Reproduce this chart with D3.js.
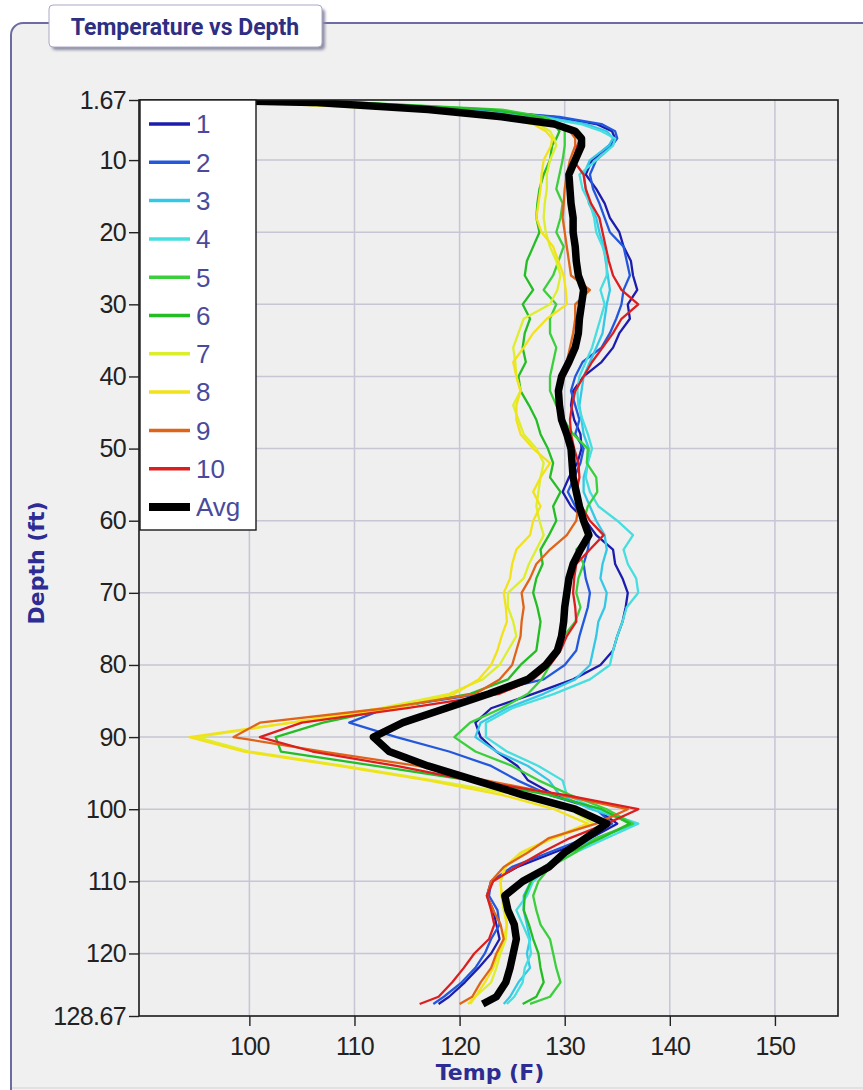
<!DOCTYPE html>
<html>
<head>
<meta charset="utf-8">
<script src="https://cdn.jsdelivr.net/npm/d3@7"></script>
<style>
  body { margin: 0; background: #ffffff; }
  svg { display: block; }
</style>
</head>
<body>
<svg id="chart" width="863" height="1090"></svg>
<script>
// Depth samples (ft) shared by every run
const depths = [1.67, 2, 3, 4, 5, 6, 7,
  8, 10, 12, 14, 16, 18, 20, 22, 24, 26,
  28, 30, 32, 34, 36, 38, 40, 42, 44, 46,
  48, 50, 52, 54, 56, 58, 60, 62, 64, 66,
  68, 70, 72, 74, 76, 78, 80, 82, 84, 86,
  88, 90, 92, 94, 96, 98, 100, 102, 104, 106,
  108, 110, 112, 114, 116, 118, 120, 122, 124, 126,
  127];

// Temperature (F) of each run at the depths above
const run1 = [92, 104, 121, 129, 133, 134.5, 134.8,
  134.2, 132.6, 132, 133, 133.8, 134.3, 135.2, 135.6, 136.3, 136.5,
  136.9, 136, 136.2, 135.2, 134.6, 133.5, 131.8, 130.8, 130.6, 130.9,
  131.5, 131.6, 131.2, 130.4, 129.8, 130.6, 132, 133, 134.6, 134.8,
  135.5, 136, 135.8, 135.5, 135, 134.6, 133.4, 130.8, 127, 123,
  121.5, 122, 123.5, 125.5, 126.5, 129, 133, 135, 132.5, 129,
  125.5, 123, 122.6, 123.2, 123.5, 123.8, 123, 121.8, 120.5, 119,
  118];
const run2 = [92, 104, 121, 129.5, 133.5, 134.8, 135,
  134.5, 133, 132.4, 132.7, 133.3, 133.8, 134.3, 135.6, 135.9, 136.2,
  135.6, 135.4, 134.9, 134.3, 133.5, 131.7, 131, 130.6, 131, 131.4,
  131, 131.8, 131.5, 130.9, 130.3, 131, 131.8, 132.4, 132.2, 131.8,
  132, 132.4, 132.2, 131.8, 131.4, 131.1, 130, 128, 122, 113,
  109.5, 114, 119, 123, 125.5, 128.5, 133, 134.5, 132, 128.5,
  125, 123, 122.8, 123.6, 123.8, 123, 122.4, 121.5, 120.2, 118.5,
  117.5];
const run3 = [92, 103, 120, 128, 132, 134, 134.6,
  134.2, 132.4, 131.8, 132, 132.3, 133, 133.3, 133.7, 133.9, 134.1,
  134.3, 134, 133.8, 133.6, 133, 132.4, 131.8, 131.6, 131.4, 131.6,
  131.8, 132.3, 132.2, 131.8, 131.8, 132.4, 133, 133.8, 134, 133.6,
  133.4, 134, 133.8, 133.2, 133, 132.7, 132.4, 131, 128, 124.5,
  122, 121.5, 123.5, 126.5, 128.5, 129.5, 132.5, 136.8, 133, 130,
  128, 126.8, 126.1, 126.1, 126.4, 126.7, 126.4, 126.7, 125.6, 124.8,
  124.2];
const run4 = [92, 103, 119, 127.5, 131.5, 133.5, 134.8,
  134.6, 133, 131.4, 131.7, 132.4, 132.8, 133, 133.6, 134, 134,
  133.4, 133.8, 133.4, 133, 132.6, 132, 131.4, 131.2, 131.3, 131.7,
  132.2, 132.6, 132.2, 132, 132.4, 133.2, 135, 136.5, 135.6, 136,
  136.8, 137, 135.9, 135.5, 135, 134.6, 134.3, 132.4, 129, 125,
  122.5, 122.5, 124.5, 127.5, 129.8, 130.2, 133, 137, 134, 131,
  128.5, 127, 126.4, 125.4, 126, 126.6, 126.8, 126.2, 126, 125.2,
  124.5];
const run5 = [92, 110, 124, 128, 129.5, 130, 130,
  130, 129.8, 129.5, 129.2, 129.8, 129.6, 129.2, 129.9, 129.4, 128.9,
  128, 129.2, 128.6, 128.6, 129.2, 128.9, 128.6, 128.6, 129.2, 129.9,
  130.8, 132.2, 132.1, 133, 133.1, 132.2, 131.8, 132.4, 131.1, 131.8,
  131.3, 131.1, 131.5, 131, 129.9, 129.3, 128.6, 127.8, 126.5, 124,
  121, 119.5, 121.5, 125, 127.5, 130.5, 134, 136.5, 133, 131,
  128.6, 127.5, 127, 127.3, 127.7, 128.6, 128.9, 129.2, 129.6, 128.6,
  126.7];
const run6 = [92, 110, 123, 127.5, 129, 129.5, 129.2,
  128.8, 128.6, 128, 127.6, 127.4, 127.3, 127.6, 127, 126.4, 126.2,
  127, 126, 126.7, 126.2, 126, 126.3, 125.6, 125.8, 126.6, 127.3,
  127.7, 128.4, 128.9, 128.6, 129.6, 128.9, 129.2, 128.5, 127.7, 127.9,
  127.3, 127, 127.4, 127.7, 127.5, 127.3, 125.8, 124.6, 121, 113.5,
  107, 102.5, 103, 112, 121, 128.5, 133.5, 136.2, 133.5, 130.5,
  128, 126.8, 126.2, 126.1, 126.6, 127, 127.5, 127.7, 128, 127.3,
  126];
const run7 = [92, 100, 116, 124, 127.5, 128.6, 129,
  129.2, 128.6, 128.3, 128.3, 128.1, 128, 128.2, 128.6, 129.2, 129.6,
  129.3, 128.6, 126.1, 125.6, 125.1, 125.3, 125.4, 125.8, 125.1, 125.6,
  126.1, 127.3, 128, 127.7, 127.5, 127.3, 127.6, 128, 127.3, 126.6,
  126.1, 124.6, 124.6, 125.1, 125.4, 124.6, 123.8, 122.2, 119, 112.5,
  104, 95, 100, 109, 117.5, 125.5, 130.5, 132.7, 129, 126,
  124.4, 123.9, 124, 124.2, 124.5, 124.4, 123.9, 123.5, 123, 121.5,
  121];
const run8 = [92, 100, 115, 123.5, 127, 128.2, 128.8,
  128.7, 128, 127.8, 127.7, 127.5, 127.3, 127.8, 128.9, 129.4, 129.9,
  130.1, 130.2, 128.3, 127, 126.1, 125.1, 125.4, 125.8, 125.4, 125.4,
  125.8, 127, 128.6, 127.7, 127, 127.7, 127, 126.7, 125.4, 125,
  124.8, 124.2, 124.4, 124.5, 124, 123.6, 123, 121.8, 119.5, 114,
  104, 94.3, 99.5, 108.5, 117, 124, 129, 132.2, 128.8, 125.8,
  124.3, 123.9, 124, 124.3, 124.5, 124.2, 123.7, 123.2, 122.4, 121.5,
  120.8];
const run9 = [92, 102, 118, 125, 129, 130.5, 131,
  131, 130.5, 130.2, 130, 129.9, 129.8, 130, 130.2, 130.4, 130.6,
  132.4, 131, 131, 130.8, 130.5, 130.2, 129.8, 129.5, 129.3, 129.6,
  130, 130.4, 130.8, 131, 131.2, 131.3, 131.1, 130.2, 128.6, 127.3,
  126.7, 125.9, 126.1, 125.9, 125.8, 125.4, 125, 123.8, 121.5, 113,
  101, 98.5, 107, 116, 122.5, 129.5, 136, 133, 128.5, 126.5,
  124.2, 123, 122.6, 123.2, 123.9, 124.2, 123.5, 123, 122, 121.2,
  120];
const run10 = [92, 102, 118, 125, 129, 130.8, 131.5,
  131.2, 130.8, 131.8, 132, 132.5, 133.3, 133.6, 133.9, 134.2, 134.6,
  135.4, 137, 135.4, 134.6, 133.6, 132.6, 131.8, 131, 130.7, 130.5,
  130.6, 130.9, 131.3, 131.4, 131.1, 131.6, 132.4, 133.7, 132.4, 131.1,
  130.9, 130.8, 131, 131.1, 130.2, 129.6, 128.6, 127, 123.8, 115,
  105, 101, 106, 114, 121, 130, 137, 134, 130.5, 127.8,
  125.4, 123.2, 122.6, 123, 123.3, 122.8, 121.4, 120.4, 119.3, 118,
  116.2];
const avgTemp = [94, 106, 117, 124, 129, 131, 131.6,
  131.6, 131, 130.4, 130.5, 130.6, 130.8, 130.8, 131, 131.1, 131.3,
  131.8, 131.6, 131.4, 131.3, 131, 130.4, 129.7, 129.4, 129.5, 129.7,
  130.2, 130.6, 130.7, 130.8, 131.1, 131.4, 131.8, 132.3, 131.5, 130.8,
  130.4, 130.2, 130, 129.9, 129.7, 129.3, 128.2, 126.5, 122.8, 118.7,
  114.6, 111.8, 113.3, 117, 121.5, 126, 131, 134, 132, 130,
  128.5, 126, 124.3, 124.6, 125.2, 125.4, 125.1, 124.8, 124.4, 123.5,
  122.2];

const runNames = ["1", "2", "3", "4", "5", "6", "7", "8", "9", "10"];
const runColors = ["#1c1cae", "#2458dc", "#34c8e6", "#46dede", "#3ccf3c",
                   "#24bd24", "#dcee2c", "#f2e21a", "#e06418", "#dc1e1e"];
const runValues = [run1, run2, run3, run4, run5, run6, run7, run8, run9, run10];

const tempTicks = [100, 110, 120, 130, 140, 150];
const depthTicks = [1.67, 10, 20, 30, 40, 50, 60, 70, 80, 90, 100, 110, 120, 128.67];
const depthGridLines = [10, 20, 30, 40, 50, 60, 70, 80, 90, 100, 110, 120];

const svg = d3.select("#chart");
const plot = { left: 139, right: 838, top: 100, bottom: 1016 };

const x = d3.scaleLinear().domain([89.5, 156]).range([plot.left, plot.right]);
const y = d3.scaleLinear().domain([1.67, 128.67]).range([plot.top, plot.bottom]);

const defs = svg.append("defs");
defs.append("filter").attr("id", "soft").attr("x", "-10%").attr("y", "-10%")
  .attr("width", "130%").attr("height", "140%")
  .append("feGaussianBlur").attr("stdDeviation", 1.6);
defs.append("clipPath").attr("id", "plotClip")
  .append("rect")
  .attr("x", plot.left).attr("y", plot.top)
  .attr("width", plot.right - plot.left).attr("height", plot.bottom - plot.top);

// Outer panel
svg.append("rect").attr("width", 863).attr("height", 1090).attr("fill", "#ffffff");
svg.append("rect")
  .attr("x", 11).attr("y", 23).attr("width", 900).attr("height", 1090).attr("rx", 12)
  .attr("fill", "#f0f0f0").attr("stroke", "#6c6ca2").attr("stroke-width", 2);
svg.append("line")
  .attr("x1", 12).attr("x2", 863).attr("y1", 1088).attr("y2", 1088)
  .attr("stroke", "#dcdce2").attr("stroke-width", 1.5);

// Title tab
svg.append("rect")
  .attr("x", 52).attr("y", 9).attr("width", 273).attr("height", 41).attr("rx", 4)
  .attr("fill", "#8c8ca4").attr("filter", "url(#soft)");
svg.append("rect")
  .attr("x", 49).attr("y", 5).attr("width", 273).attr("height", 42).attr("rx", 4)
  .attr("fill", "#ffffff").attr("stroke", "#a8a8c4").attr("stroke-width", 1);
svg.append("text")
  .attr("x", 185).attr("y", 35).attr("text-anchor", "middle")
  .attr("font-family", "Roboto, 'Open Sans', sans-serif").attr("font-weight", 700)
  .attr("font-size", 23).attr("fill", "#2e2e82")
  .text("Temperature vs Depth");

// Plot background
svg.append("rect")
  .attr("x", plot.left).attr("y", plot.top)
  .attr("width", plot.right - plot.left).attr("height", plot.bottom - plot.top)
  .attr("fill", "#efeff0");

// Grid
const grid = svg.append("g").attr("stroke", "#c6c6d4").attr("stroke-width", 1.5);
grid.selectAll("line.v").data(tempTicks).join("line").attr("class", "v")
  .attr("x1", d => x(d)).attr("x2", d => x(d))
  .attr("y1", plot.top).attr("y2", plot.bottom);
grid.selectAll("line.h").data(depthGridLines).join("line").attr("class", "h")
  .attr("x1", plot.left).attr("x2", plot.right)
  .attr("y1", d => y(d)).attr("y2", d => y(d));

// Temperature profiles
const line = d3.line()
  .x(d => x(d.t))
  .y(d => y(d.d));

const lines = svg.append("g").attr("clip-path", "url(#plotClip)");
runValues.forEach((vals, i) => {
  const pts = depths.map((d, k) => ({ d: d, t: vals[k] }));
  lines.append("path")
    .datum(pts)
    .attr("d", line)
    .attr("fill", "none")
    .attr("stroke", runColors[i])
    .attr("stroke-width", 2.3)
    .attr("stroke-linejoin", "round");
});
lines.append("path")
  .datum(depths.map((d, k) => ({ d: d, t: avgTemp[k] })))
  .attr("d", line)
  .attr("fill", "none")
  .attr("stroke", "#000000")
  .attr("stroke-width", 7.5)
  .attr("stroke-linejoin", "round");

// Frame
svg.append("rect")
  .attr("x", plot.left).attr("y", plot.top)
  .attr("width", plot.right - plot.left).attr("height", plot.bottom - plot.top)
  .attr("fill", "none").attr("stroke", "#1a1a1a").attr("stroke-width", 1.6);

// Axes
const tickFont = "'Liberation Sans', Arial, sans-serif";
const yAxis = svg.append("g")
  .attr("transform", `translate(${plot.left},0)`)
  .call(d3.axisLeft(y).tickValues(depthTicks).tickFormat(d => String(d))
    .tickSize(10).tickPadding(3));
yAxis.select(".domain").remove();
yAxis.selectAll("line").attr("stroke", "#222").attr("stroke-width", 1.4);
yAxis.selectAll("text")
  .attr("font-family", tickFont).attr("font-size", 25).attr("fill", "#222")
  .attr("letter-spacing", -0.6);

const xAxis = svg.append("g")
  .attr("transform", `translate(0,${plot.bottom})`)
  .call(d3.axisBottom(x).tickValues(tempTicks).tickFormat(d => String(d))
    .tickSize(10).tickPadding(11));
xAxis.select(".domain").remove();
xAxis.selectAll("line").attr("stroke", "#222").attr("stroke-width", 1.4);
xAxis.selectAll("text")
  .attr("font-family", tickFont).attr("font-size", 25).attr("fill", "#222")
  .attr("letter-spacing", -0.6);

// Axis titles
svg.append("text")
  .attr("transform", "translate(44,563) rotate(-90)")
  .attr("text-anchor", "middle")
  .attr("font-family", "'DejaVu Sans', Verdana, sans-serif").attr("font-weight", 700)
  .attr("font-size", 22).attr("fill", "#2c2c92")
  .text("Depth (ft)");
svg.append("text")
  .attr("x", 490).attr("y", 1080).attr("text-anchor", "middle")
  .attr("font-family", "'DejaVu Sans', Verdana, sans-serif").attr("font-weight", 700)
  .attr("font-size", 22).attr("fill", "#2c2c92")
  .text("Temp (F)");

// Legend
const legendItems = runNames.map((n, i) => ({ name: n, color: runColors[i], width: 3.5 }))
  .concat([{ name: "Avg", color: "#000000", width: 8 }]);
const legend = svg.append("g");
legend.append("rect")
  .attr("x", 140).attr("y", 100).attr("width", 116).attr("height", 430)
  .attr("fill", "#ffffff").attr("stroke", "#1a1a1a").attr("stroke-width", 1.4);
const rowY = d3.scaleLinear().domain([0, legendItems.length - 1]).range([124, 507]);
const rows = legend.selectAll("g.row").data(legendItems).join("g").attr("class", "row")
  .attr("transform", (d, i) => `translate(0,${rowY(i)})`);
rows.append("line")
  .attr("x1", 149).attr("x2", 190).attr("y1", 0).attr("y2", 0)
  .attr("stroke", d => d.color).attr("stroke-width", d => d.width);
rows.append("text")
  .attr("x", 196).attr("y", 0).attr("dy", "0.36em")
  .attr("font-family", tickFont).attr("font-size", 26).attr("fill", "#4a4a9c")
  .text(d => d.name);
</script>
</body>
</html>
